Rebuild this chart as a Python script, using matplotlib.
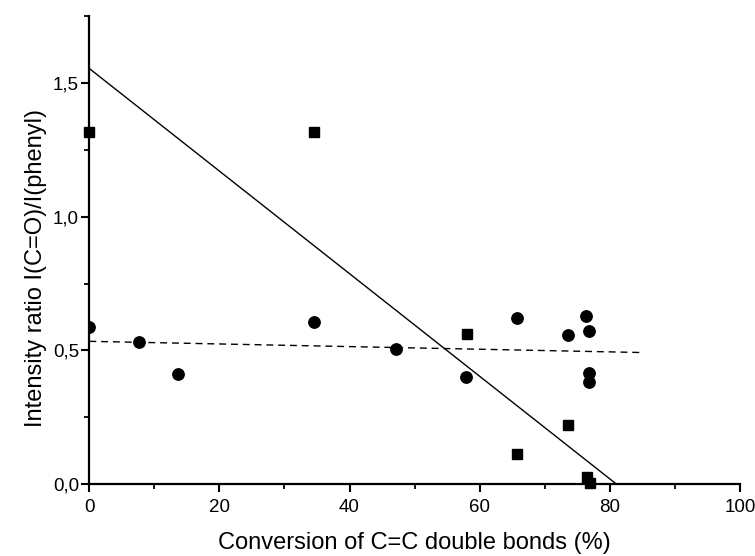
import matplotlib
matplotlib.use("Agg")
import matplotlib.pyplot as plt
import numpy as np
from matplotlib.ticker import MultipleLocator, FuncFormatter

plt.rcParams['font.family'] = ['Liberation Sans', 'DejaVu Sans']

# Circles (series 1)
circle_x = [0.0, 7.6, 13.7, 34.5, 47.2, 57.9, 65.8, 73.6, 76.4, 76.8, 76.8, 76.8]
circle_y = [0.587, 0.532, 0.413, 0.608, 0.507, 0.400, 0.620, 0.556, 0.629, 0.571, 0.414, 0.381]
# Squares (series 2)
square_x = [0.0, 34.5, 58.0, 65.8, 73.6, 76.5, 77.0]
square_y = [1.317, 1.317, 0.560, 0.113, 0.220, 0.025, 0.005]
# Fit lines (endpoints)
solid_x = [0.0, 81.0]
solid_y = [1.555, 0.0]
dashed_x = [0.0, 85.0]
dashed_y = [0.534, 0.492]

xlabel = "Conversion of C=C double bonds (%)"
ylabel = "Intensity ratio I(C=O)/I(phenyl)"

fig = plt.figure(figsize=(7.55, 5.56), dpi=100)
ax = fig.add_axes([0.1183, 0.1295, 0.8617, 0.841])

ax.plot(solid_x, solid_y, color='black', lw=1.0)
ax.plot(dashed_x, dashed_y, color='black', lw=1.0, dashes=(5, 3.5))
ax.plot(circle_x, circle_y, 'o', color='black', ms=8.2, mec='black')
ax.plot(square_x, square_y, 's', color='black', ms=7.8, mec='black', clip_on=False)

ax.set_xlim(0, 100)
ax.set_ylim(0, 1.75)
ax.spines['top'].set_visible(False)
ax.spines['right'].set_visible(False)
for s in ('left', 'bottom'):
    ax.spines[s].set_linewidth(1.6)

ax.xaxis.set_major_locator(MultipleLocator(20))
ax.xaxis.set_minor_locator(MultipleLocator(10))
ax.yaxis.set_major_locator(MultipleLocator(0.5))
ax.yaxis.set_minor_locator(MultipleLocator(0.25))
ax.yaxis.set_major_formatter(FuncFormatter(lambda v, p: f"{v:.1f}".replace('.', ',')))
ax.tick_params(which='major', direction='out', length=6, width=1.5, labelsize=13.5)
ax.tick_params(axis='x', which='major', pad=4.5)
ax.tick_params(axis='y', which='major', pad=1.5)
ax.tick_params(which='minor', direction='out', length=3.3, width=1.3)

ax.set_xlabel(xlabel, fontsize=17, va='baseline')
ax.xaxis.set_label_coords(0.5, -0.139)
ax.set_ylabel(ylabel, fontsize=17, va='baseline')
ax.yaxis.set_label_coords(-0.073, 0.463)

fig.savefig("out.png", dpi=100)
